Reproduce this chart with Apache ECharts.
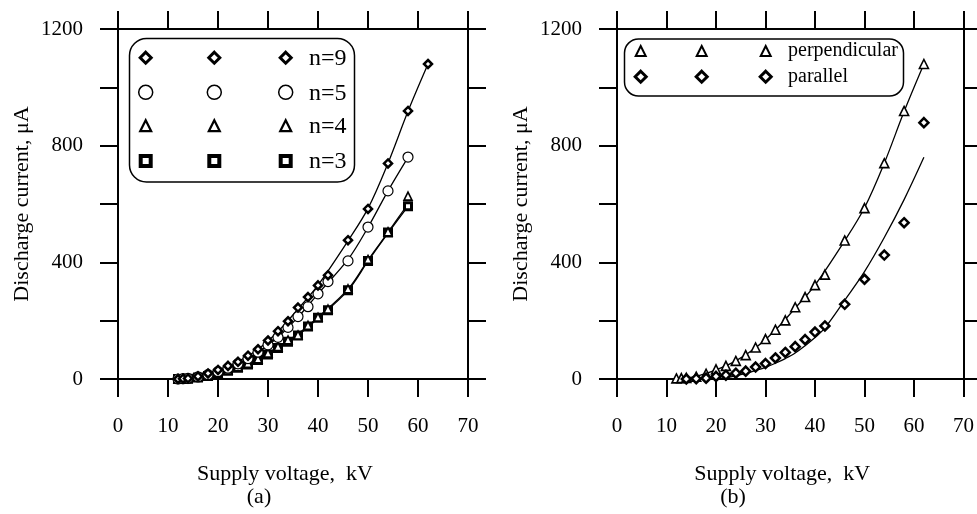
<!DOCTYPE html>
<html>
<head>
<meta charset="utf-8">
<script src="https://cdn.jsdelivr.net/npm/echarts@6/dist/echarts.min.js"></script>
<style>
html,body{margin:0;padding:0;background:#fff;}
#chart{width:977px;height:514px;}
</style>
</head>
<body>
<div id="chart"></div>
<script>
// ---------- Data (a) ----------
const voltA = [12,13,14,16,18,20,22,24,26,28,30,32,34,36,38,40,42,46,50,54,58,62];
const n9 = [0,1,2,9,19,31,45,59,80,102,132,164,198,245,281,321,356,476,583,739,919,1080];
const n5 = [0,1,2,7,15,25,37,52,70,92,117,143,177,214,248,292,334,405,521,645,761];
const n4 = [0,1,2,6,12,21,31,42,54,69,89,111,134,151,184,212,240,309,410,505,627];
const n3 = [0,0,1,5,10,18,28,39,50,65,84,106,128,149,180,210,236,304,405,502,592];
// fitted curves (a)
const fitVoltA = [12,16,20,24,28,32,36,40,46,50,54,58,62];
const n9Fit = [0,9,31,60,102,163,240,322,474,585,740,918,1080];
const n5Fit = [0,7,25,52,91,143,212,292,410,520,645,760];
const n4Fit = [0,6,20,41,68,110,155,212,308,408,503,600];
const n3Fit = [0,5,18,39,65,106,150,208,304,404,500,592];

// ---------- Data (b) ----------
const voltB = [12,13,14,16,18,20,22,24,26,28,30,32,34,36,38,40,42,46,50,54,58,62];
const perp = [2,3,4,8,18,33,45,62,82,108,137,169,201,246,281,322,358,475,586,740,919,1080];
const voltBPar = [14,16,18,20,22,24,26,28,30,32,34,36,38,40,42,46,50,54,58,62];
const par = [0,1,3,9,13,20,27,41,53,72,91,111,135,161,182,256,342,425,536,879];
// fitted curves (b)
const perpFitV = [12,16,20,24,28,32,36,40,46,50,54,58,62];
const perpFit = [0,9,31,62,107,168,243,322,474,587,740,917,1080];
const parFitV = [18,20,22,24,26,28,30,32,34,36,38,40,42,46,50,54,58,62];
const parFit = [0,1,5,11,19,29,40,54,70,89,114,142,175,270,368,485,615,760];

// ---------- Axis ticks ----------
const xTicks = {min: 0, max: 70, interval: 10};
const yTicks = {min: 0, max: 1200, interval: 200, labelStep: 400};
const xName = 'Supply voltage,  kV';
const yName = 'Discharge current, \u03BCA';
const legendA = ['n=9', 'n=5', 'n=4', 'n=3'];
const legendB = ['perpendicular', 'parallel'];
const panelLabels = ['(a)', '(b)'];

// ---------- Styles ----------
const FONT = '"Liberation Serif", "Times New Roman", serif';
const lineW = 2;

function zip(xs, ys) { return ys.map((y, i) => [xs[i], y]); }

const xAxes = [], yAxes = [];
[0, 1].forEach(g => {
  const tickStyle = {show: true, inside: false, length: 18, lineStyle: {color: '#000', width: lineW}};
  const axisLine = {show: true, onZero: false, lineStyle: {color: '#000', width: lineW}};
  xAxes.push({
    type: 'value', gridIndex: g, position: 'bottom', min: xTicks.min, max: xTicks.max, interval: xTicks.interval,
    axisLine, axisTick: tickStyle, splitLine: {show: false},
    axisLabel: {show: true, margin: 37, fontSize: 21, fontFamily: FONT, color: '#000'},
    name: xName, nameLocation: 'middle', nameGap: 84,
    nameTextStyle: {fontSize: 22, fontFamily: FONT, color: '#000', padding: [0, 16, 0, 0]}
  });
  xAxes.push({
    type: 'value', gridIndex: g, position: 'top', min: xTicks.min, max: xTicks.max, interval: xTicks.interval,
    axisLine, axisTick: tickStyle, splitLine: {show: false}, axisLabel: {show: false}
  });
  yAxes.push({
    type: 'value', gridIndex: g, position: 'left', min: yTicks.min, max: yTicks.max, interval: yTicks.interval,
    axisLine, axisTick: tickStyle, splitLine: {show: false},
    axisLabel: {show: true, margin: 35, fontSize: 21, fontFamily: FONT, color: '#000',
      formatter: v => (v % yTicks.labelStep === 0 ? String(v) : '')},
    name: yName, nameLocation: 'middle', nameGap: 85, nameRotate: 90,
    nameTextStyle: {fontSize: 22, fontFamily: FONT, color: '#000'}
  });
  yAxes.push({
    type: 'value', gridIndex: g, position: 'right', min: yTicks.min, max: yTicks.max, interval: yTicks.interval,
    axisLine, axisTick: tickStyle, splitLine: {show: false}, axisLabel: {show: false}
  });
});

const curve = (name, g, data) => ({
  name, type: 'line', xAxisIndex: g * 2, yAxisIndex: g * 2, data, smooth: 0.35,
  showSymbol: false, symbol: 'none', lineStyle: {color: '#000', width: 1.3}, z: 2, silent: true
});
const marks = (name, g, data, symbol, size, bw) => ({
  name, type: 'scatter', xAxisIndex: g * 2, yAxisIndex: g * 2, data, symbol, symbolSize: size,
  itemStyle: {color: '#fff', borderColor: '#000', borderWidth: bw, opacity: 1}, z: 5
});

const series = [
  curve('n9 fit', 0, zip(fitVoltA, n9Fit)),
  curve('n5 fit', 0, zip(fitVoltA, n5Fit)),
  curve('n4 fit', 0, zip(fitVoltA, n4Fit)),
  curve('n3 fit', 0, zip(fitVoltA, n3Fit)),
  marks('n=3', 0, zip(voltA, n3), 'rect', 7, 3),
  marks('n=4', 0, zip(voltA, n4), 'triangle', 8, 1.6),
  marks('n=5', 0, zip(voltA, n5), 'circle', 10, 1.2),
  marks('n=9', 0, zip(voltA, n9), 'diamond', 8, 2.5),
  curve('perp fit', 1, zip(perpFitV, perpFit)),
  curve('par fit', 1, zip(parFitV, parFit)),
  marks('perpendicular', 1, zip(voltB, perp), 'triangle', 9, 1.6),
  marks('parallel', 1, zip(voltBPar, par), 'diamond', 9, 2.5)
];

// ---------- Legend drawn as graphic ----------
function mk(type, cx, cy, s, lw) {
  const st = {fill: '#fff', stroke: '#000', lineWidth: lw};
  if (type === 'diamond') return {type: 'polygon', shape: {points: [[cx, cy - s/2], [cx + s/2, cy], [cx, cy + s/2], [cx - s/2, cy]]}, style: st};
  if (type === 'circle') return {type: 'circle', shape: {cx, cy, r: s/2}, style: st};
  if (type === 'triangle') return {type: 'polygon', shape: {points: [[cx, cy - s/2], [cx + s/2, cy + s/2], [cx - s/2, cy + s/2]]}, style: st};
  return {type: 'rect', shape: {x: cx - s/2, y: cy - s/2, width: s, height: s}, style: st};
}
function txt(t, x, y, size, align) {
  return {type: 'text', x, y, style: {text: t, font: size + 'px ' + FONT, fill: '#000',
    align: align || 'left', verticalAlign: 'middle', textAlign: align || 'left', textVerticalAlign: 'middle'}};
}
const graphics = [];
graphics.push({type: 'rect', shape: {x: 129.5, y: 38.5, width: 225, height: 143.5, r: 17}, style: {fill: '#fff', stroke: '#000', lineWidth: 1.5}, z: 10});
const aSpec = [['diamond', 11, 3], ['circle', 14, 1.5], ['triangle', 11, 2.2], ['rect', 10, 4]];
const aRows = [57.7, 92.3, 125.7, 161];
const aCols = [145.7, 214.3, 285.7];
legendA.forEach((t, i) => {
  aCols.forEach(cx => { const e = mk(aSpec[i][0], cx, aRows[i], aSpec[i][1], aSpec[i][2]); e.z = 11; graphics.push(e); });
  const e = txt(t, 309, aRows[i] + 1, 24); e.z = 11; graphics.push(e);
});
graphics.push({type: 'rect', shape: {x: 624.5, y: 39, width: 279, height: 57, r: 14}, style: {fill: '#fff', stroke: '#000', lineWidth: 1.5}, z: 10});
const bSpec = [['triangle', 10, 2], ['diamond', 11, 3]];
const bRows = [51, 76.7];
const bCols = [640.7, 701.7, 765.7];
legendB.forEach((t, i) => {
  bCols.forEach(cx => { const e = mk(bSpec[i][0], cx, bRows[i], bSpec[i][1], bSpec[i][2]); e.z = 11; graphics.push(e); });
  const e = txt(t, 788, bRows[i], 20); e.z = 11; graphics.push(e);
});
graphics.push(txt(panelLabels[0], 259, 497, 22, 'center'));
graphics.push(txt(panelLabels[1], 733, 497, 22, 'center'));

const chart = echarts.init(document.getElementById('chart'), null, {renderer: 'canvas'});
chart.setOption({
  animation: false,
  backgroundColor: '#fff',
  grid: [
    {left: 118, top: 29, width: 350, height: 350, containLabel: false},
    {left: 617, top: 29, width: 350, height: 350, containLabel: false}
  ],
  xAxis: xAxes,
  yAxis: yAxes,
  series,
  graphic: graphics
});
</script>
</body>
</html>
